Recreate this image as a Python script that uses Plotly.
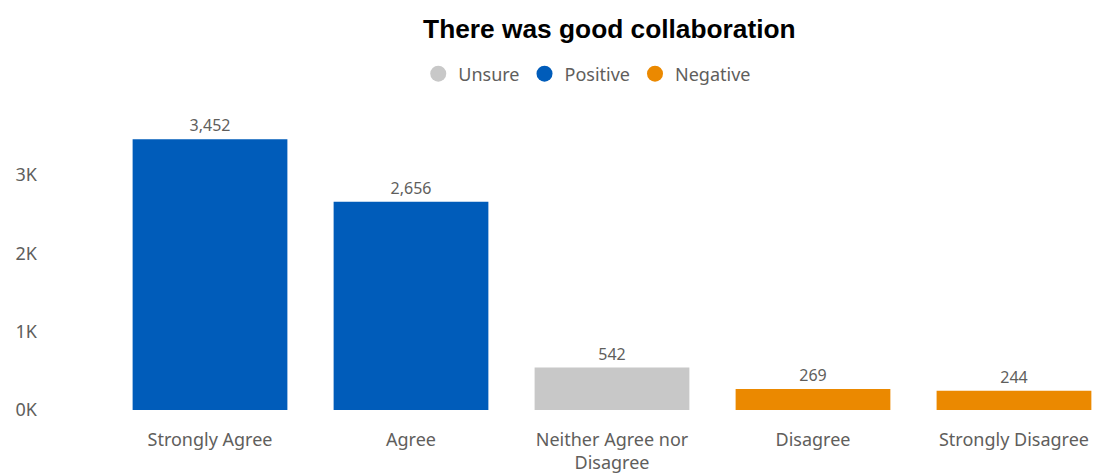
import plotly.graph_objects as go

categories = ["Strongly Agree", "Agree", "Neither Agree nor<br>Disagree", "Disagree", "Strongly Disagree"]
values = [3452, 2656, 542, 269, 244]
groups = ["Positive", "Positive", "Unsure", "Negative", "Negative"]
legend_order = ["Unsure", "Positive", "Negative"]
colors = {"Unsure": "#C8C8C8", "Positive": "#005CBA", "Negative": "#EB8900"}
y_tickvals = [0, 1000, 2000, 3000]
y_ticktext = ["0K", "1K", "2K", "3K"]

fig = go.Figure()
fig.add_trace(go.Bar(
    x=categories, y=values,
    marker=dict(color=[colors[g] for g in groups], line=dict(width=0)),
    width=0.77,
    text=[f"{v:,}" for v in values], textposition="outside",
    textfont=dict(family="Noto Sans", size=16, color="#605E5C"),
    cliponaxis=False, showlegend=False,
))
for g in legend_order:
    fig.add_trace(go.Scatter(
        x=[None], y=[None], mode="markers", name=g,
        marker=dict(symbol="circle", size=16, color=colors[g]),
    ))

fig.update_layout(
    width=1098, height=476,
    margin=dict(l=112, r=0, t=100, b=66),
    paper_bgcolor="white", plot_bgcolor="white",
    title=dict(text="<b>There was good collaboration</b>", x=0.555, xanchor="center",
               y=1 - 29 / 476, yanchor="middle",
               font=dict(family="Liberation Sans", size=26.3, color="#000000")),
    legend=dict(orientation="h", x=0.482, xanchor="center", yref="container",
                y=1 - 74 / 476, yanchor="middle",
                font=dict(family="Noto Sans", size=18, color="#605E5C"),
                itemwidth=30, tracegroupgap=0),
    xaxis=dict(range=[-0.4876, 4.418], showgrid=False, showline=False, zeroline=False,
               ticks="", automargin=False, ticklabelstandoff=17,
               tickfont=dict(family="Noto Sans", size=18, color="#605E5C")),
    yaxis=dict(range=[0, 3954], tickvals=y_tickvals, ticktext=y_ticktext,
               showgrid=False, zeroline=False, showline=False, ticks="",
               automargin=False, ticklabelstandoff=74,
               tickfont=dict(family="Noto Sans", size=18, color="#605E5C")),
    bargap=0.23,
)

fig.write_html("out.html")
